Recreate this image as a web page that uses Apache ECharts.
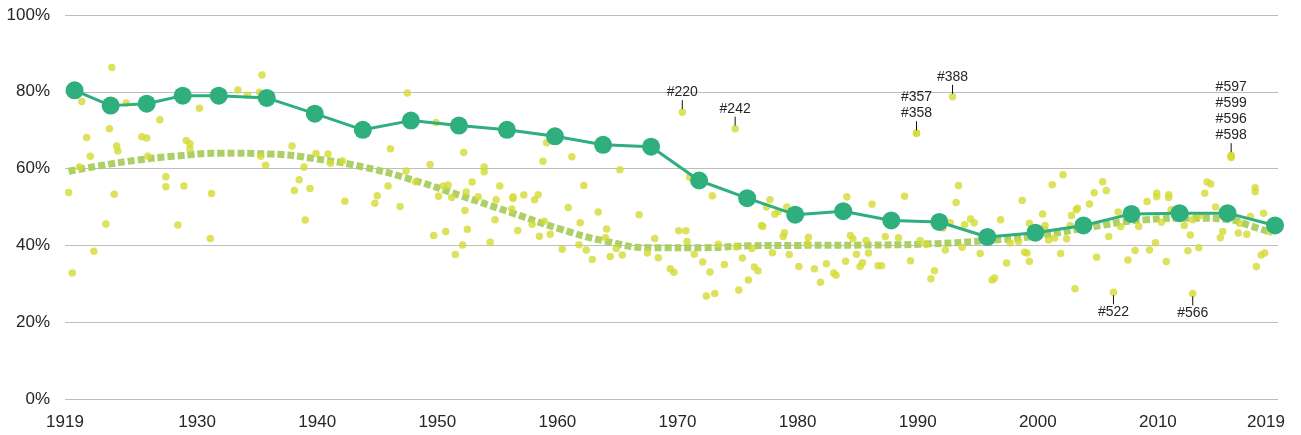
<!DOCTYPE html>
<html>
<head>
<meta charset="utf-8">
<script src="https://cdn.jsdelivr.net/npm/echarts@6/dist/echarts.min.js"></script>
<style>
html,body{margin:0;padding:0;background:#fff;}
#chart{width:1301px;height:435px;}
</style>
</head>
<body>
<div id="chart"></div>
<script>
// ---- data ----
const xTickLabels = [1919, 1930, 1940, 1950, 1960, 1970, 1980, 1990, 2000, 2010, 2019];

const mainYears = [1919.8, 1922.8, 1925.8, 1928.8, 1931.8, 1935.8, 1939.8, 1943.8, 1947.8, 1951.8, 1955.8, 1959.8, 1963.8, 1967.8, 1971.8, 1975.8, 1979.8, 1983.8, 1987.8, 1991.8, 1995.8, 1999.8, 2003.8, 2007.8, 2011.8, 2015.8, 2019.75];
const mainValues = [80.4, 76.4, 76.9, 79.0, 79.0, 78.4, 74.3, 70.1, 72.5, 71.2, 70.1, 68.4, 66.2, 65.7, 56.9, 52.3, 48.0, 48.9, 46.5, 46.1, 42.2, 43.3, 45.2, 48.2, 48.4, 48.4, 45.2];

const trendYears = [1919.3, 1922, 1925, 1928, 1932, 1936, 1940, 1944, 1948, 1952, 1956, 1960, 1964, 1968, 1972, 1976, 1980, 1986, 1991, 1995.5, 2000, 2004.5, 2009, 2013, 2016, 2017.6, 2019.5];
const trendValues = [59.3, 60.8, 62.2, 63.2, 64.0, 63.8, 62.5, 60.3, 57.0, 52.9, 48.7, 44.5, 41.1, 39.4, 39.4, 39.9, 40.0, 40.1, 40.4, 41.2, 42.5, 44.8, 46.7, 47.1, 46.7, 45.2, 43.3];

const dotYears = [
  1922.9, 1935.4, 1920.4, 1924.1, 1933.4, 1934.2, 1935.2, 1930.2, 1926.9, 1922.7,
  1920.8, 1925.4, 1925.8, 1929.1, 1929.4, 1929.4, 1923.3, 1923.4, 1921.1, 1925.9,
  1920.2, 1935.3, 1935.7, 1919.3, 1923.1, 1927.4, 1927.4, 1928.9, 1931.2, 1922.4,
  1928.4, 1931.1, 1921.4, 1919.6,
  1947.5, 1949.9, 1937.9, 1946.1, 1952.2, 1939.9, 1940.9, 1941.1, 1942.1, 1938.9,
  1938.5, 1938.1, 1939.4, 1939.0, 1942.3, 1944.8, 1945.0, 1945.9, 1947.4, 1946.9,
  1948.2, 1949.4, 1953.9, 1953.9, 1952.9, 1950.5, 1950.9, 1950.1, 1951.2, 1952.4,
  1953.4, 1952.3, 1955.2, 1954.9, 1954.8, 1949.7, 1950.7, 1952.5, 1952.1, 1951.5,
  1954.4,
  1970.4, 1959.1, 1958.8, 1961.2, 1965.2, 1962.2, 1956.3, 1956.3, 1957.2, 1958.1,
  1958.4, 1956.2, 1957.9, 1956.7, 1958.5, 1959.4, 1958.9, 1960.9, 1961.9, 1960.4,
  1961.8, 1962.4, 1962.9, 1963.4, 1964.1, 1964.0, 1964.9, 1964.4, 1965.4, 1966.8,
  1967.5, 1968.1, 1968.4, 1970.1, 1970.7, 1970.8, 1971.4, 1969.4, 1969.7, 1972.1,
  1972.7, 1972.4, 1973.1, 1971.0, 1972.9, 1973.4,
  1974.8, 1989.9, 1989.9, 1984.1, 1988.9, 1986.2, 1977.7, 1977.4, 1978.1, 1978.4,
  1979.1, 1977.0, 1977.1, 1978.9, 1978.8, 1980.9, 1984.4, 1984.6, 1985.7, 1987.3,
  1988.4, 1990.2, 1974.9, 1976.2, 1977.9, 1979.3, 1980.8, 1984.9, 1985.9, 1973.9,
  1975.4, 1976.4, 1976.7, 1980.1, 1981.4, 1982.4, 1983.0, 1983.2, 1984.0, 1985.2,
  1985.4, 1986.7, 1987.0, 1989.4, 1975.9, 1975.1, 1981.9, 1991.4, 1991.1, 1990.7,
  1992.9, 2002.1, 2001.2, 1993.4, 1993.2, 1998.7, 2005.4, 2005.7, 2004.7, 2004.3,
  2003.3, 2003.2, 2002.8, 2000.4, 2006.7, 2009.1, 2009.9, 2009.9, 1996.9, 1994.4,
  1994.7, 1993.9, 1992.7, 1992.1, 1999.3, 2000.6, 2000.6, 2002.7, 2006.9, 2008.4,
  2005.9, 2002.4, 2000.9, 2001.4, 1997.7, 1998.4, 1993.7, 1992.3, 2009.8, 1995.2,
  1998.9, 1999.1, 2001.9, 2004.9, 2008.1, 2009.3, 1997.4, 1999.3, 2007.5, 1996.2,
  1996.4, 2003.1, 2006.3,
  2016.1, 2016.1, 2016.1, 2016.1, 2014.1, 2014.4, 2013.9, 2018.1, 2018.1, 2010.9,
  2010.9, 2014.8, 2018.8, 2011.1, 2012.2, 2010.3, 2012.7, 2015.4, 2015.2, 2016.7,
  2017.4, 2016.8, 2017.7, 2013.5, 2012.9, 2013.4, 2012.5, 2010.7, 2018.6, 2018.9,
  2018.2, 2012.9, 2019.3
];
const dotValues = [
  86.3, 84.4, 77.5, 77.1, 80.5, 79.1, 79.9, 75.7, 72.7, 70.4,
  68.1, 68.3, 68.0, 67.3, 66.5, 65.2, 65.9, 64.6, 63.2, 63.2,
  60.4, 63.2, 60.9, 53.8, 53.3, 57.9, 55.3, 55.5, 53.5, 45.6,
  45.3, 41.8, 38.5, 32.8,
  79.7, 72.0, 65.9, 65.2, 64.2, 63.9, 63.8, 61.4, 62.0, 60.4,
  57.1, 54.3, 54.8, 46.6, 51.5, 51.0, 52.9, 55.5, 59.4, 50.1,
  56.6, 61.1, 60.4, 59.2, 56.5, 55.5, 55.7, 52.8, 52.5, 53.9,
  52.7, 49.1, 55.5, 51.9, 46.7, 42.6, 43.6, 44.2, 40.1, 37.6,
  40.8,
  74.7, 66.7, 61.9, 63.1, 59.7, 55.6, 52.7, 52.2, 53.1, 51.9,
  53.2, 49.5, 45.5, 43.9, 42.4, 42.9, 46.3, 49.9, 45.9, 39.0,
  40.2, 38.8, 36.3, 48.7, 44.3, 42.0, 39.2, 37.1, 37.5, 48.0,
  38.0, 41.8, 36.8, 43.8, 43.8, 41.0, 37.7, 33.9, 33.0, 35.7,
  33.1, 26.8, 27.5, 57.8, 52.9, 40.3,
  70.4, 69.2, 69.2, 52.7, 52.8, 50.7, 51.9, 50.0, 48.1, 48.8,
  50.0, 45.2, 44.9, 43.3, 42.3, 42.1, 42.6, 41.7, 41.3, 42.3,
  42.0, 41.2, 39.6, 39.2, 38.1, 37.6, 40.4, 37.7, 38.0, 35.0,
  36.7, 34.4, 33.4, 34.5, 33.9, 35.2, 32.8, 32.2, 35.9, 34.5,
  35.5, 34.7, 34.7, 36.0, 31.0, 28.4, 30.4, 33.4, 31.3, 40.3,
  78.7, 58.4, 55.8, 55.6, 51.2, 51.7, 56.6, 54.3, 53.7, 50.8,
  49.7, 49.3, 47.8, 48.2, 48.7, 51.4, 53.6, 52.7, 46.7, 46.9,
  45.9, 45.4, 45.9, 44.5, 45.8, 45.2, 44.0, 45.2, 44.9, 44.9,
  42.3, 41.7, 41.4, 41.9, 40.6, 41.0, 39.5, 38.8, 40.7, 37.9,
  38.2, 38.0, 37.9, 36.9, 38.7, 38.8, 35.4, 35.9, 36.2, 31.0,
  31.5, 28.7, 27.8,
  63.5, 63.3, 63.1, 62.9, 56.5, 56.0, 53.6, 55.0, 54.0, 53.2,
  52.5, 50.0, 48.4, 49.3, 45.2, 46.0, 42.7, 43.6, 42.0, 43.2,
  42.9, 45.8, 47.5, 47.8, 46.7, 39.4, 38.6, 35.8, 37.5, 38.0,
  34.5, 27.5, 43.6
];

const annotYears = [1970.4, 1974.8, 1989.9, 1992.9, 2016.1, 2006.3, 2012.9];
const annotValues = [74.7, 70.4, 69.2, 78.7, 63.5, 27.8, 27.5];
const annotLabels = ['#220', '#242', '#357\n#358', '#388', '#597\n#599\n#596\n#598', '#522', '#566'];
const annotSides = ['top', 'top', 'top', 'top', 'top', 'bottom', 'bottom'];

// ---- chart ----
const FONT = '"Liberation Sans", Arial, sans-serif';
const TEXT = '#262626';
const chart = echarts.init(document.getElementById('chart'), null, {renderer: 'canvas'});

const pairs = (xs, ys) => xs.map((x, i) => [x, ys[i]]);

chart.setOption({
  animation: false,
  backgroundColor: '#ffffff',
  grid: {left: 65, right: 23, top: 15, bottom: 36, containLabel: false, outerBoundsMode: 'none'},
  xAxis: {
    type: 'value', min: 1919, max: 2020,
    axisLine: {show: false}, axisTick: {show: false}, splitLine: {show: false},
    axisLabel: {
      customValues: xTickLabels,
      formatter: v => String(Math.round(v)),
      fontFamily: FONT, fontSize: 17, color: TEXT, margin: 15
    }
  },
  yAxis: {
    type: 'value', min: 0, max: 100, interval: 20,
    axisLine: {show: false}, axisTick: {show: false},
    splitLine: {lineStyle: {color: '#bdbdbd', width: 1}},
    axisLabel: {formatter: '{value}%', fontFamily: FONT, fontSize: 17, color: TEXT, margin: 15}
  },
  series: [
    {
      type: 'line', name: 'trend', z: 1,
      data: pairs(trendYears, trendValues),
      smooth: 0.5, showSymbol: false, symbol: 'none',
      lineStyle: {color: '#a8ce5e', width: 7, type: [7, 3], opacity: 0.95}
    },
    {
      type: 'scatter', name: 'dots', z: 2,
      data: pairs(dotYears, dotValues),
      symbolSize: 7.5,
      itemStyle: {color: '#d4db35'}
    },
    {
      type: 'line', name: 'main', z: 3,
      data: pairs(mainYears, mainValues),
      symbol: 'circle', symbolSize: 18, showSymbol: true,
      lineStyle: {color: '#2fae7e', width: 3},
      itemStyle: {color: '#2fae7e', borderWidth: 0}
    },
    {
      type: 'custom', name: 'annotations', z: 4, clip: false, silent: true,
      data: pairs(annotYears, annotValues),
      renderItem: function (params, api) {
        const i = params.dataIndex;
        const p = api.coord([api.value(0), api.value(1)]);
        const up = annotSides[i] === 'top';
        const s = up ? -1 : 1;
        return {
          type: 'group',
          children: [
            {type: 'line', shape: {x1: p[0], y1: p[1] + s * 3, x2: p[0], y2: p[1] + s * 12},
             style: {stroke: '#111', lineWidth: 1}},
            {type: 'text', style: {
              text: annotLabels[i], x: p[0], y: p[1] + s * 12,
              align: 'center', verticalAlign: up ? 'bottom' : 'top',
              fontFamily: FONT, fontSize: 14, lineHeight: 16, fill: TEXT
            }}
          ]
        };
      }
    }
  ]
});
</script>
</body>
</html>
